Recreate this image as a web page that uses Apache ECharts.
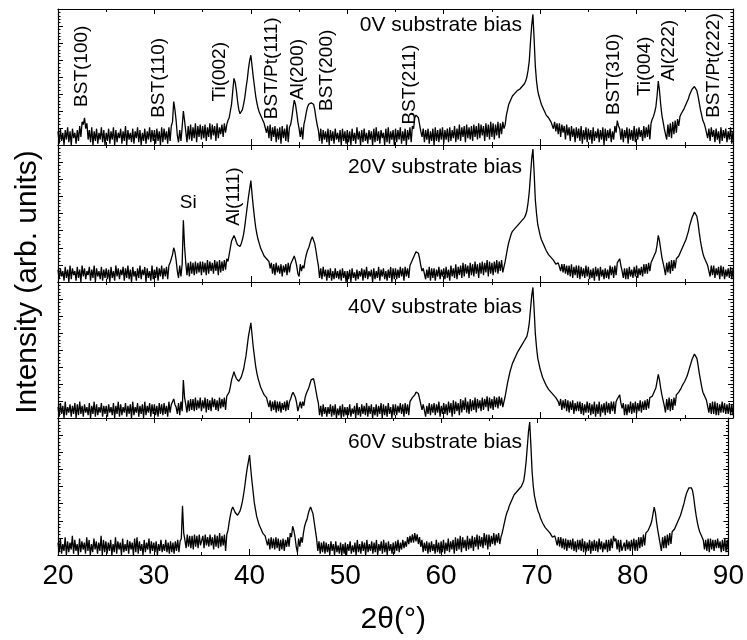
<!DOCTYPE html>
<html><head><meta charset="utf-8">
<script src="https://cdn.jsdelivr.net/npm/echarts@6/dist/echarts.min.js"></script>
<style>html,body{margin:0;padding:0;background:#fff}#c{width:747px;height:640px}</style>
</head><body><div id="c"></div>
<script>
// scan: 2theta from 20 to 90 deg, step 0.125 deg (561 samples per pattern)
const SCAN_START = 20, SCAN_STEP = 0.125, SCAN_N = 561;
const twoTheta = [];
for (let i = 0; i < SCAN_N; i++) twoTheta.push(SCAN_START + i * SCAN_STEP);

const panelNames = ['0V substrate bias', '20V substrate bias', '40V substrate bias', '60V substrate bias'];
const xTickValues = [20, 30, 40, 50, 60, 70, 80, 90];

// intensities (arb. units, 0 = panel floor, 100 = panel top); one row = 5 deg (40 samples)
const y0V = [
 10,1,12,3,9,0,11,4, 13,2,10,0,12,5,9,1, 11,3,14,6,17,15,20,12, 16,4,11,2,13,0,10,3, 12,1,9,4,13,2,11,0,
 9,3,12,1,10,4,13,0, 11,2,9,5,12,1,10,3, 14,0,11,4,9,2,12,1, 10,5,13,2,11,0,9,3, 12,1,10,4,13,2,11,3,
 11,1,12,3,10,0,13,2, 12,4,10,1,13,3,14,17, 32,26,18,7,2,11,3,13, 25,18,10,2,14,4,15,3, 13,5,16,2,14,6,15,4,
 14,5,15,3,13,6,16,4, 15,7,14,3,16,5,13,8, 15,6,16,9,15,18,20,25, 30,40,49,46,40,32,26,23, 23,26,30,35,42,48,56,62,
 66,58,50,43,36,31,27,24, 22,20,18,16,15,9,14,5, 15,3,13,6,14,2,12,4, 13,1,14,5,12,3,15,2, 13,15,20,27,33,30,24,17,
 12,6,13,4,15,19,24,28, 30,31,31,30,30,26,20,15, 11,3,12,1,11,4,10,2, 12,0,11,3,10,1,12,4, 9,2,11,0,12,3,10,1,
 11,2,10,0,12,3,9,1, 13,4,10,0,11,2,12,3, 9,1,11,4,10,0,12,2, 13,3,10,1,11,5,9,0, 12,2,13,1,10,4,11,0,
 12,2,11,4,13,1,10,3, 12,0,11,4,13,2,14,12, 20,22,23,20,15,10,6,12, 2,11,4,12,1,10,3,12, 0,13,3,11,2,12,4,13,
 1,11,4,12,2,13,3,11, 5,14,2,12,4,15,3,13, 6,14,2,15,5,13,4,14, 3,15,6,14,4,16,5,15, 7,14,3,16,6,15,4,17,
 6,16,4,15,7,17,5,16, 8,17,12,15,22,26,30,32, 34,36,37,38,39,40,41,41, 42,43,44,45,47,50,55,62, 76,88,96,78,58,47,40,36,
 33,30,28,26,24,22,21,20, 19,17,18,12,17,10,16,8, 16,6,15,9,14,4,15,7, 13,3,14,6,12,2,13,5, 12,3,14,1,11,4,13,2,
 12,4,11,1,13,3,10,5, 12,2,11,4,13,0,12,3, 11,5,12,2,10,4,14,9, 18,14,12,4,12,2,11,5, 13,1,12,4,11,3,14,2,
 12,4,13,6,11,3,14,5, 13,6,15,4,16,19,21,24, 28,36,47,40,30,22,17,12, 13,4,15,6,16,5,17,8, 18,9,19,14,21,23,24,26,
 28,30,32,34,37,39,41,42, 43,42,40,36,31,26,22,18, 16,13,14,5,12,3,13,6, 11,2,12,4,10,1,13,3, 11,5,12,2,10,4,13,1,
 10];
const y20V = [
 9,2,10,4,8,1,11,3, 9,0,12,2,10,5,8,1, 11,3,9,0,12,4,10,2, 8,5,11,1,9,3,12,0, 10,4,8,2,11,1,9,3,
 10,2,9,0,11,3,8,1, 12,4,10,2,9,5,11,1, 10,3,12,2,9,0,11,4, 8,1,10,3,12,2,9,5, 11,0,10,3,8,1,12,2,
 9,3,11,1,10,4,12,2, 10,4,11,2,12,14,17,20, 25,22,16,8,3,12,4,13, 45,26,14,5,14,4,15,6, 14,5,15,6,14,7,15,5,
 15,7,14,5,16,6,15,8, 14,6,16,8,15,5,16,7, 15,8,16,9,17,15,20,25, 30,32,34,32,29,27,26,26, 28,31,35,41,48,55,62,68,
 74,64,55,47,40,35,31,28, 25,23,21,19,18,17,16,15, 10,14,6,13,5,14,7,12, 6,13,4,12,7,13,5,14, 7,13,14,17,19,16,12,6,
 4,13,8,12,10,16,20,23, 25,28,31,33,33,28,23,17, 12,3,10,2,11,4,9,1, 9,3,10,1,8,2,10,3, 8,2,9,1,10,3,8,0,
 8,2,9,0,10,3,7,1, 9,2,8,4,10,1,9,3, 11,2,8,4,9,0,10,2, 8,3,11,1,9,4,10,2, 8,1,9,3,11,0,10,2,
 10,2,9,3,11,4,10,1, 11,4,10,3,12,14,16,18, 20,22,23,21,17,12,8,10, 10,2,9,3,11,1,10,3, 10,1,9,4,11,2,9,4,
 10,2,11,3,9,1,12,4, 10,3,13,2,11,5,12,3, 14,4,13,6,12,3,14,5, 13,4,15,6,13,3,14,6, 15,5,14,7,16,4,15,6,
 14,5,15,7,16,6,15,8, 16,7,11,15,20,25,29,32, 35,37,38,39,40,41,42,43, 44,45,46,47,49,52,58,66, 78,90,97,80,60,50,42,38,
 34,31,29,27,25,23,22,20, 19,18,17,16,15,13,12,14, 14,8,13,7,13,6,12,5, 12,4,13,3,11,5,12,3, 12,2,11,4,10,3,12,4,
 11,2,9,3,10,1,11,4, 10,1,11,4,9,2,10,3, 9,2,12,5,11,3,12,5, 14,15,17,12,8,3,10,2, 10,2,11,4,9,3,11,4,
 12,3,10,5,11,4,13,6, 13,6,14,8,14,16,18,20, 22,27,34,30,24,18,14,10, 5,14,7,15,6,16,8,16, 10,17,18,19,21,23,25,27,
 29,31,34,37,41,44,47,49, 51,50,48,43,36,30,25,21, 18,16,14,12,11,4,12,5, 12,3,10,5,11,2,12,4, 11,2,9,4,10,3,11,2,
 10];
const y40V = [
 8,1,11,3,9,0,12,2, 8,4,10,1,9,3,11,0, 10,2,12,3,9,1,10,4, 8,2,11,0,9,3,12,1, 10,2,8,4,11,1,9,3,
 9,1,10,4,8,2,11,0, 9,3,12,1,10,2,8,4, 11,1,9,3,10,0,12,2, 8,4,11,1,9,3,10,0, 12,2,9,4,11,1,10,3,
 10,2,9,1,11,3,10,2, 11,3,9,1,12,4,10,12, 14,10,8,3,11,2,12,5, 28,15,10,4,13,5,14,6, 14,5,15,6,13,7,15,5,
 13,7,15,4,14,6,13,5, 15,8,14,6,13,5,15,7, 14,8,15,6,16,16,19,23, 28,31,34,31,29,28,27,28, 30,33,36,41,46,53,60,65,
 70,61,52,45,38,33,29,26, 23,21,19,17,16,15,14,8, 13,5,12,6,13,4,12,5, 12,4,11,6,12,5,13,6, 12,14,17,19,19,15,11,5,
 4,12,7,12,9,15,18,20, 22,25,28,29,29,25,20,15, 11,2,9,1,10,3,8,1, 8,3,10,1,9,2,10,0, 7,2,9,0,10,1,8,2,
 8,2,10,1,7,3,9,0, 11,2,8,1,10,3,9,2, 11,1,9,3,10,0,8,2, 10,1,9,3,11,0,10,2, 9,1,11,3,8,0,10,2,
 10,2,9,4,11,3,10,1, 11,3,10,2,12,13,15,16, 17,19,20,18,14,10,6,10, 10,1,9,3,11,2,10,4, 11,2,10,4,12,1,9,3,
 11,3,10,2,12,4,11,1, 13,3,12,5,11,2,14,4, 13,6,15,4,12,3,14,5, 13,6,15,4,14,7,13,5, 15,6,14,8,16,5,15,7,
 14,6,16,8,15,7,16,9, 15,8,12,16,21,26,30,34, 37,40,42,44,46,48,49,51, 52,54,55,57,58,60,64,70, 80,90,96,80,62,52,44,40,
 36,33,30,28,26,24,23,21, 20,19,18,17,16,15,14,12, 9,14,6,13,7,14,5,13, 4,12,6,13,3,11,5,12, 5,12,3,11,2,10,4,12,
 4,11,2,10,3,12,1,10, 3,12,1,10,4,11,2,12, 4,11,3,12,5,12,3,12, 14,15,17,11,7,11,2,10, 2,10,4,12,3,11,4,12,
 3,11,5,13,4,12,6,13, 6,14,7,15,15,16,18,20, 22,27,32,28,22,17,13,9, 4,14,6,15,5,14,6,15, 9,17,18,19,20,22,24,25,
 27,29,31,34,37,40,43,45, 47,46,44,39,33,28,23,19, 17,15,13,12,4,11,3,12, 3,12,2,11,2,10,4,12, 4,11,3,10,3,11,2,10,
 2];
const y60V = [
 9,2,12,1,8,3,13,0, 10,2,9,4,14,1,11,3, 8,0,12,2,10,4,9,1, 13,3,11,0,8,2,12,4, 10,1,9,3,14,0,11,2,
 10,1,9,3,11,0,8,2, 13,1,10,4,9,0,12,2, 8,3,11,1,10,4,9,0, 12,2,13,1,10,3,8,0, 11,2,9,4,12,1,10,3,
 9,2,10,0,8,3,11,2, 8,3,11,2,9,1,10,2, 9,1,10,3,11,2,10,12, 36,16,11,5,15,6,14,5, 14,4,15,6,14,5,15,7,
 6,14,5,15,7,13,6,15, 7,13,4,15,6,14,5,16, 6,14,7,15,3,15,18,24, 29,33,35,33,31,30,29,30, 32,35,39,44,50,57,63,68,
 73,63,54,46,38,33,28,25, 22,20,18,16,15,14,13,7, 12,4,13,5,12,4,13,5, 12,3,11,4,12,3,11,6, 13,6,16,13,21,18,13,6,
 2,12,6,13,9,16,21,24, 26,30,33,35,35,30,24,18, 12,3,10,1,9,2,10,1, 9,2,8,0,10,3,8,0, 10,2,7,1,9,0,8,1,
 9,0,8,3,10,1,7,2, 9,0,11,2,8,1,10,3, 9,0,11,2,8,3,10,1, 9,2,11,0,8,3,10,1, 11,2,9,0,10,3,8,1,
 9,1,10,3,11,2,9,4, 11,5,10,6,13,8,14,9, 15,9,16,10,15,8,13,6, 11,2,9,3,10,1,9,2, 10,3,8,1,11,2,9,1,
 10,2,11,1,9,3,12,2, 10,4,11,1,13,3,12,4, 14,2,13,5,11,3,14,4, 12,5,14,3,13,6,15,4, 14,6,13,5,16,7,15,4,
 15,6,14,8,16,7,15,9, 16,8,13,16,20,24,28,31, 33,36,38,40,42,44,45,46, 47,48,49,50,51,54,60,68, 79,90,97,80,61,50,43,39,
 35,32,30,27,25,23,22,20, 19,18,17,16,15,13,12,14, 14,7,13,6,13,5,12,4, 12,3,11,5,11,4,12,3, 10,2,11,4,11,3,12,2,
 10,2,9,3,11,1,10,3, 11,3,10,2,12,4,10,2, 9,4,11,2,11,3,12,5, 14,10,12,4,11,2,11,3, 2,9,3,11,4,10,3,11,
 4,12,3,11,3,13,5,13, 6,15,7,16,16,18,20,22, 25,30,35,31,24,18,13,8, 3,13,5,14,5,15,7,16, 8,17,18,19,21,23,25,27,
 29,32,35,38,42,45,47,49, 50,49,47,42,35,29,24,20, 17,15,13,11,4,11,3,12, 2,12,4,11,3,11,5,12, 5,10,2,11,3,12,2,11,
 3];
const patterns = [y0V, y20V, y40V, y60V];

// peak annotations
const peakLabels0V = ['BST(100)', 'BST(110)', 'Ti(002)', 'BST/Pt(111)', 'Al(200)', 'BST(200)', 'BST(211)', 'BST(310)', 'Ti(004)', 'Al(222)', 'BST/Pt(222)'];
const peakAt0V = [22.5, 30.4, 36.8, 42.2, 44.9, 47.9, 56.5, 77.6, 80.9, 83.3, 88.0];
const peakLabels20V = ['Al(111)'];
const peakAt20V = [38.2];
const siLabel = 'Si', siAt = 33.5;

// ---------- layout ----------
const LEFT = 58, RIGHT = 14;
const tops = [9, 145, 282, 418], heights = [136, 137, 136, 137];
const labelBase0V = [28, 20, 32, 19, 33, 25, 15, 22, 36, 47, 20];
const labelBase20V = [41];
const FONT = 'Liberation Sans, Arial, sans-serif';

const chart = echarts.init(document.getElementById('c'), null, {renderer: 'canvas'});
const grids = [], xAxes = [], yAxes = [], series = [];
for (let i = 0; i < 4; i++) {
  grids.push({left: LEFT, right: RIGHT, top: tops[i], height: heights[i], containLabel: false});
  const last = i === 3;
  xAxes.push({
    gridIndex: i, type: 'value', min: 20, max: 90, interval: 10, position: 'bottom',
    axisLine: {show: true, onZero: false, lineStyle: {color: '#000', width: 1.2}},
    axisTick: {show: true, inside: true, length: 6, lineStyle: {color: '#000'}},
    minorTick: {show: true, splitNumber: 2, length: 3, lineStyle: {color: '#000'}},
    splitLine: {show: false},
    axisLabel: {show: last, color: '#000', fontSize: 28, fontFamily: FONT, margin: 7},
    name: last ? '2θ(°)' : '', nameLocation: 'middle', nameGap: 50,
    nameTextStyle: {color: '#000', fontSize: 30, fontFamily: FONT}
  });
}
for (let i = 0; i < 4; i++) {
  xAxes.push({
    gridIndex: i, type: 'value', min: 20, max: 90, interval: 10, position: 'top',
    axisLine: {show: true, onZero: false, lineStyle: {color: '#000', width: 1.2}},
    axisTick: {show: true, inside: true, length: 5, lineStyle: {color: '#000'}},
    minorTick: {show: true, splitNumber: 2, length: 3, lineStyle: {color: '#000'}},
    splitLine: {show: false}, axisLabel: {show: false}
  });
}
for (let k = 0; k < 8; k++) {
  const i = k % 4;
  yAxes.push({
    gridIndex: i, type: 'value', min: 0, max: 100, interval: 12.5,
    position: k < 4 ? 'left' : 'right',
    axisLine: {show: true, onZero: false, lineStyle: {color: '#000', width: 1.2}},
    axisTick: {show: true, inside: true, length: 5, lineStyle: {color: '#000'}},
    minorTick: {show: true, splitNumber: 5, length: 2.5, lineStyle: {color: '#000'}},
    splitLine: {show: false}, axisLabel: {show: false}
  });
}
for (let i = 0; i < 4; i++) {
  series.push({
    type: 'line', xAxisIndex: i, yAxisIndex: i, showSymbol: false, symbol: 'none',
    data: twoTheta.map((x, j) => [x, patterns[i][j]]),
    lineStyle: {color: '#000', width: 1.3}, animation: false, silent: true
  });
}
chart.setOption({backgroundColor: '#fff', animation: false, grid: grids, xAxis: xAxes, yAxis: yAxes, series: series});

// ---------- text ----------
const g = [];
g.push({type: 'text', x: 28, y: (tops[0] + tops[3] + heights[3]) / 2, rotation: Math.PI / 2,
  style: {text: 'Intensity (arb. units)', font: '30px ' + FONT, fill: '#000', textAlign: 'center', textVerticalAlign: 'middle'}});
const nameOffset = [16, 22, 25, 24];
for (let i = 0; i < 4; i++) {
  g.push({type: 'text', x: 522, y: tops[i] + nameOffset[i],
    style: {text: panelNames[i], font: '21px ' + FONT, fill: '#000', textAlign: 'right', textVerticalAlign: 'middle'}});
}
function vLabel(grid, txt, x, base) {
  const p = chart.convertToPixel({gridIndex: grid}, [x, base]);
  g.push({type: 'text', x: p[0], y: p[1], rotation: Math.PI / 2,
    style: {text: txt, font: '19px ' + FONT, fill: '#000', textAlign: 'left', textVerticalAlign: 'middle'}});
}
peakLabels0V.forEach((t, j) => vLabel(0, t, peakAt0V[j], labelBase0V[j]));
peakLabels20V.forEach((t, j) => vLabel(1, t, peakAt20V[j], labelBase20V[j]));
const sp = chart.convertToPixel({gridIndex: 1}, [siAt, 58]);
g.push({type: 'text', x: sp[0], y: sp[1],
  style: {text: siLabel, font: '19px ' + FONT, fill: '#000', textAlign: 'center', textVerticalAlign: 'middle'}});
chart.setOption({graphic: g});
</script></body></html>
